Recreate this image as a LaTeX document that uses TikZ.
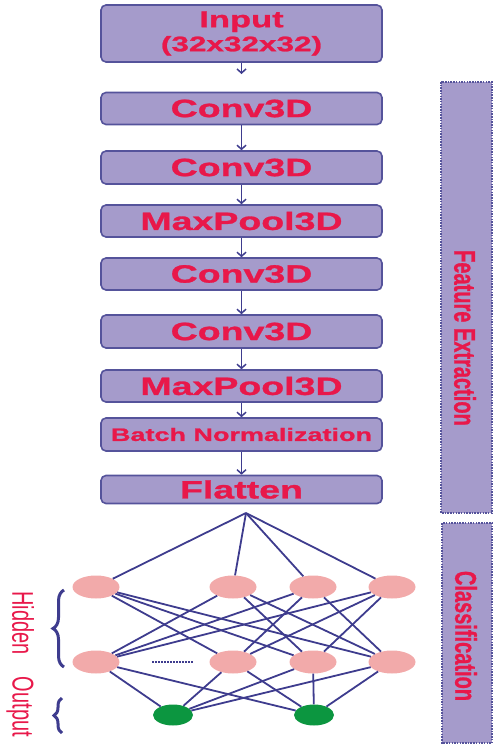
\documentclass[tikz,border=0pt]{standalone}
\usepackage{fontspec}
\setmainfont{Liberation Sans}
\newfontfamily\boxfont{Liberation Sans}[FakeStretch=1.5,BoldFeatures={FakeBold=1.2}]
\newfontfamily\sidefont{Liberation Sans}[FakeStretch=0.667,BoldFeatures={FakeBold=0.8}]
\usetikzlibrary{arrows.meta,shapes.geometric,decorations.pathreplacing}
\definecolor{boxfill}{HTML}{A59BCB}
\definecolor{boxline}{HTML}{55539B}
\definecolor{labelred}{HTML}{E8184A}
\definecolor{netline}{HTML}{3E3C8E}
\definecolor{neuron}{HTML}{F2AAAA}
\definecolor{outneuron}{HTML}{0C9640}
\begin{document}
\begin{tikzpicture}[x=1pt,y=-1pt,
	layer/.style={draw=boxline,fill=boxfill,line width=1.6pt,rounded corners=5pt,minimum width=281pt,minimum height=32pt,inner sep=0pt,text=labelred,font=\boxfont\bfseries\fontsize{25}{28}\selectfont},
	flow/.style={draw=netline,line width=1.5pt,-{Straight Barb[length=4pt,width=9pt]}},
	link/.style={draw=netline,line width=1.8pt},
	hid/.style={ellipse,fill=neuron,minimum width=47pt,minimum height=23pt,inner sep=0pt},
	outn/.style={ellipse,fill=outneuron,minimum width=40pt,minimum height=21pt,inner sep=0pt},
	panel/.style={draw=boxline,fill=boxfill,line width=1.6pt,dash pattern=on 1.5pt off 1.2pt},
	sidelabel/.style={text=labelred,rotate=-90,font=\sidefont\bfseries\fontsize{30}{30}\selectfont},
	braceline/.style={draw=netline,line width=3pt,decorate,decoration={brace,amplitude=#1}},
	]
	\useasboundingbox (0,0) rectangle (494,750);
	\node[layer,minimum height=57pt,align=center,font=\boxfont\bfseries\fontsize{23}{24}\selectfont] (input) at (241.5,33.5) {Input\\{\fontsize{21}{24}\selectfont(32x32x32)}};
	\node[layer] (conv1) at (241.5,108.5) {Conv3D};
	\node[layer,minimum height=33pt] (conv2) at (241.5,167.5) {Conv3D};
	\node[layer] (pool1) at (241.5,221) {MaxPool3D};
	\node[layer] (conv3) at (241.5,274) {Conv3D};
	\node[layer,minimum height=33pt] (conv4) at (241.5,331.5) {Conv3D};
	\node[layer] (pool2) at (241.5,386) {MaxPool3D};
	\node[layer,minimum height=33pt,font=\boxfont\bfseries\fontsize{18}{20}\selectfont] (bnorm) at (241.5,434.5) {Batch Normalization};
	\node[layer,minimum height=28pt] (flat) at (241.5,489.5) {Flatten};
	\coordinate (inend) at (241.5,74);
	\draw[flow] (input) -- (inend);
	\draw[flow] (conv1) -- (conv2);
	\draw[flow] (conv2) -- (pool1);
	\draw[flow] (pool1) -- (conv3);
	\draw[flow] (conv3) -- (conv4);
	\draw[flow] (conv4) -- (pool2);
	\draw[flow] (pool2) -- (bnorm);
	\draw[flow] (bnorm) -- (flat);
	\draw[panel] (441,82) rectangle (492,513);
	\draw[panel] (442,523) rectangle (492,743);
	\node[sidelabel] (feat) at (465,338) {Feature Extraction};
	\node[sidelabel] (cls) at (466,636) {Classification};
	\coordinate (apex) at (246,513);
	\node[hid] (a1) at (96,587) {};
	\node[hid] (a2) at (233,587) {};
	\node[hid] (a3) at (313,587) {};
	\node[hid] (a4) at (392,587) {};
	\node[hid] (b1) at (96,662) {};
	\node[hid] (b2) at (233,662) {};
	\node[hid] (b3) at (313,662) {};
	\node[hid] (b4) at (392,662) {};
	\node[outn] (o1) at (173,715) {};
	\node[outn] (o2) at (314,715) {};
	\draw[link] (apex) -- (a1);
	\draw[link] (apex) -- (a2);
	\draw[link] (apex) -- (a3);
	\draw[link] (apex) -- (a4);
	\draw[link] (a1) -- (b2);
	\draw[link] (a1) -- (b3);
	\draw[link] (a1) -- (b4);
	\draw[link] (a2) -- (b1);
	\draw[link] (a2) -- (b3);
	\draw[link] (a2) -- (b4);
	\draw[link] (a3) -- (b1);
	\draw[link] (a3) -- (b2);
	\draw[link] (a3) -- (b4);
	\draw[link] (a4) -- (b1);
	\draw[link] (a4) -- (b2);
	\draw[link] (a4) -- (b3);
	\draw[link] (b1) -- (o1);
	\draw[link] (b1) -- (o2);
	\draw[link] (b2) -- (o1);
	\draw[link] (b2) -- (o2);
	\draw[link] (b3) -- (o1);
	\draw[link] (b3) -- (o2);
	\draw[link] (b4) -- (o1);
	\draw[link] (b4) -- (o2);
	\coordinate (dots1) at (152,662);
	\coordinate (dots2) at (193,662);
	\draw[netline,line width=1.2pt,dash pattern=on 2pt off 1pt] (dots1) -- (dots2);
	\coordinate (hb1) at (64,667);
	\coordinate (hb2) at (64,590);
	\draw[braceline=11pt] (hb1) -- (hb2);
	\coordinate (ob1) at (62,733);
	\coordinate (ob2) at (62,698);
	\draw[braceline=8pt] (ob1) -- (ob2);
	\node[text=labelred,rotate=-90,font=\sidefont\fontsize{30}{30}\selectfont] (hidlab) at (23,623) {Hidden};
	\node[text=labelred,rotate=-90,font=\sidefont\fontsize{30}{30}\selectfont] (outlab) at (20,707) {Output};
\end{tikzpicture}
\end{document}
